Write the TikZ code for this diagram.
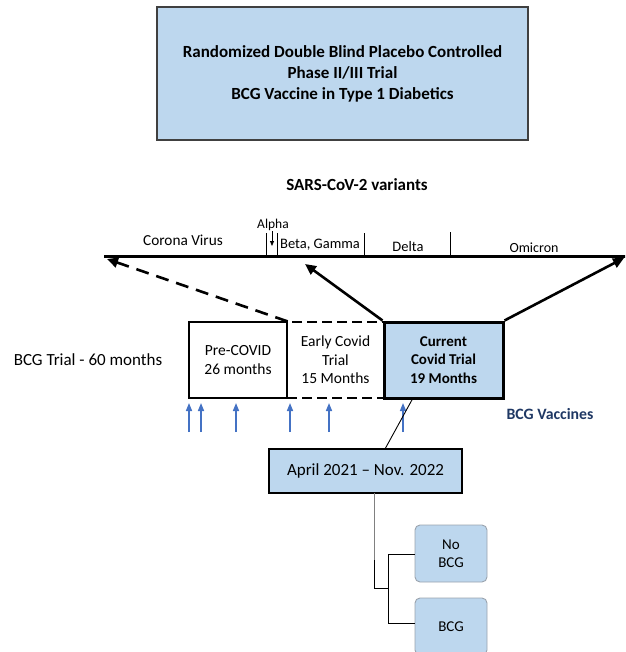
\documentclass[tikz,border=0pt]{standalone}
\usepackage{fontspec}
\setmainfont{Carlito}
\usetikzlibrary{arrows.meta}
\definecolor{lblue}{HTML}{BDD7EE}
\definecolor{dgray}{HTML}{404040}
\definecolor{arrblue}{HTML}{4472C4}
\definecolor{navy}{HTML}{1F3864}
\definecolor{rgray}{HTML}{9AA3AD}
\tikzset{
  lbl/.style={font=\fontsize{14.5}{17}\selectfont, inner sep=0pt},
  box/.style={draw, inner sep=0pt, align=center, font=\fontsize{15.5}{18.5}\selectfont},
  rbox/.style={draw=rgray, fill=lblue, rounded corners=5pt, line width=0.9pt, inner sep=0pt, align=center, minimum width=72pt, minimum height=57pt, font=\fontsize{15}{18}\selectfont},
  bigarrow/.style={line width=2.6pt, -{Triangle[length=11pt, width=10pt]}},
  vacc/.style={arrblue, line width=1.5pt, -{Triangle[length=8pt, width=6pt]}},
  thinline/.style={line width=0.9pt},
}
\begin{document}
\begin{tikzpicture}[x=1pt, y=-1pt]
\useasboundingbox (0,0) rectangle (625,652);
\clip (0,0) rectangle (625,652);
% title
\node[box, draw=dgray, line width=1.4pt, fill=lblue, minimum width=371pt, minimum height=133pt,
  font=\fontsize{17}{21}\selectfont\bfseries] (title) at (342.5,73.5)
  {Randomized Double Blind Placebo Controlled\\Phase II/III Trial\\BCG Vaccine in Type 1 Diabetics};
\node[lbl, font=\fontsize{17}{20}\selectfont\bfseries] (sars) at (357,185) {SARS-CoV-2 variants};
% timeline
\coordinate (tl) at (104,256);
\coordinate (tr) at (626,256);
\draw[line width=3pt] (tl) -- (tr);
\coordinate (t1) at (266,233); \coordinate (t1b) at (266,256);
\coordinate (t2) at (277,233); \coordinate (t2b) at (277,256);
\coordinate (t3) at (364,233); \coordinate (t3b) at (364,256);
\coordinate (t4) at (450,232); \coordinate (t4b) at (450,256);
\draw[thinline] (t1) -- (t1b);
\draw[thinline] (t2) -- (t2b);
\draw[thinline] (t3) -- (t3b);
\draw[thinline] (t4) -- (t4b);
\node[lbl, font=\fontsize{13.5}{15}\selectfont] (alpha) at (273,225) {Alpha};
\coordinate (aa) at (272,231); \coordinate (ab) at (272,246);
\draw[line width=0.8pt, -{Triangle[length=5pt, width=4pt]}] (aa) -- (ab);
\node[lbl, font=\fontsize{15.3}{17}\selectfont] (corona) at (183,240) {Corona Virus};
\node[lbl] (beta) at (320,245) {Beta, Gamma};
\node[lbl] (delta) at (408,247) {Delta};
\node[lbl, font=\fontsize{14}{17}\selectfont] (omicron) at (534,248) {Omicron};
% boxes
\node[box, line width=1.2pt, minimum width=98pt, minimum height=76pt] (pre) at (238,360)
  {Pre-COVID\\26 months};
\node[box, line width=2.6pt, dash pattern=on 10pt off 5pt, minimum width=97pt, minimum height=76pt] (early) at (335.5,360)
  {Early Covid\\Trial\\15 Months};
\node[box, line width=3pt, fill=lblue, minimum width=119pt, minimum height=76pt, font=\fontsize{15}{18.5}\selectfont\bfseries] (cur) at (443.5,360)
  {Current\\Covid Trial\\19 Months};
\node[lbl, font=\fontsize{17}{20}\selectfont] (trial) at (88,360) {BCG Trial - 60 months};
% arrows to timeline
\coordinate (a1) at (107,259);
\coordinate (a2) at (305,264);
\coordinate (a3) at (624,258);
\draw[bigarrow, dash pattern=on 13pt off 8pt] (pre.north east) -- (a1);
\draw[bigarrow] (cur.north west) -- (a2);
\draw[bigarrow] (cur.north east) -- (a3);
% vaccine arrows
\foreach \x [count=\i] in {189,201,236,290,329,403} {
  \coordinate (v\i a) at (\x,432);
  \coordinate (v\i b) at (\x,403);
  \draw[vacc] (v\i a) -- (v\i b);
}
\node[lbl, text=navy, font=\fontsize{15.8}{18}\selectfont\bfseries] (vacc) at (550,414) {BCG Vaccines};
% April box
\node[box, draw=black, line width=1.2pt, fill=lblue, minimum width=193pt, minimum height=44pt, font=\fontsize{17}{20}\selectfont] (april) at (365.5,471)
  {April 2021 -- Nov. 2022};
\coordinate (cl) at (413,398);
\coordinate (ct) at (385,449);
\draw[thinline] (cl) -- (ct);
% rounded boxes
\node[rbox] (nobcg) at (451,553.5) {No\\BCG};
\node[rbox] (bcg) at (451,626.5) {BCG};
\coordinate (j1) at (374,493);
\coordinate (jm) at (374,560);
\coordinate (j2) at (374,588);
\coordinate (j3) at (388,588);
\coordinate (j4) at (388,554);
\coordinate (j5) at (388,623);
\draw[thinline, draw=gray] (j1) -- (jm);
\draw[thinline] (jm) -- (j2) -- (j3);
\draw[thinline] (j4) -- (j5);
\draw[thinline] (j4) -- (nobcg.west |- j4);
\draw[thinline] (j5) -- (bcg.west |- j5);
\end{tikzpicture}
\end{document}
